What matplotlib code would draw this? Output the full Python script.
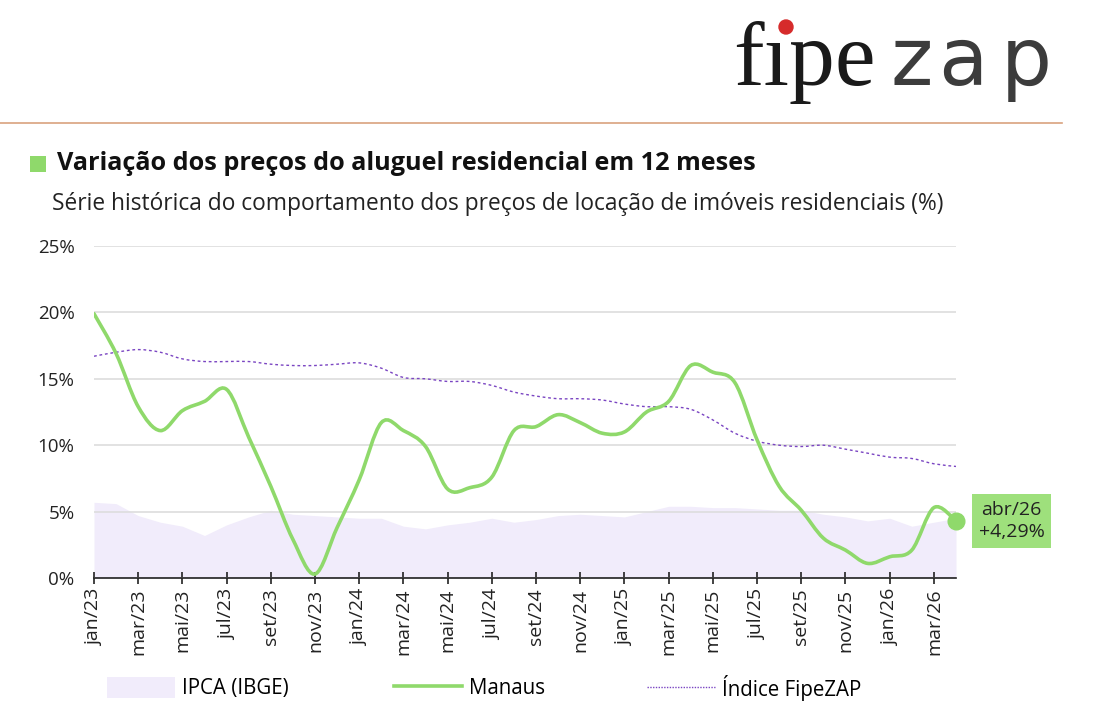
import numpy as np
import matplotlib.pyplot as plt
from matplotlib.path import Path
from matplotlib.patches import PathPatch, Patch, Rectangle, Ellipse
from matplotlib.lines import Line2D

# monthly labels jan/23 .. abr/26
months = ['jan', 'fev', 'mar', 'abr', 'mai', 'jun', 'jul', 'ago', 'set', 'out', 'nov', 'dez']
labels = [f'{months[i % 12]}/{23 + i // 12}' for i in range(40)]

manaus = [19.9, 16.9, 12.9, 11.1, 12.6, 13.3, 14.2, 10.6, 6.9, 2.9,
          0.3, 3.8, 7.4, 11.7, 11.1, 9.9, 6.7, 6.8, 7.6, 11.1,
          11.4, 12.3, 11.7, 10.9, 11.0, 12.5, 13.3, 16.0, 15.5, 14.7,
          10.4, 6.9, 5.1, 3.0, 2.1, 1.1, 1.6, 2.1, 5.3, 4.29]
fipezap = [16.7, 17.0, 17.2, 17.0, 16.5, 16.3, 16.3, 16.3, 16.1, 16.0,
           16.0, 16.1, 16.2, 15.8, 15.1, 15.0, 14.8, 14.8, 14.5, 14.0,
           13.7, 13.5, 13.5, 13.4, 13.1, 12.9, 12.9, 12.7, 11.9, 10.9,
           10.3, 10.0, 9.9, 10.0, 9.7, 9.4, 9.1, 9.0, 8.6, 8.4]
ipca = [5.7, 5.6, 4.7, 4.2, 3.9, 3.2, 4.0, 4.6, 5.1, 4.8,
        4.7, 4.6, 4.5, 4.5, 3.9, 3.7, 4.0, 4.2, 4.5, 4.2,
        4.4, 4.7, 4.8, 4.7, 4.6, 5.0, 5.4, 5.4, 5.3, 5.3,
        5.2, 5.1, 5.1, 4.8, 4.6, 4.3, 4.5, 3.9, 4.2, 4.5]
legend_labels = ['IPCA (IBGE)', 'Manaus', 'Índice FipeZAP']

GREEN = '#8fd96b'
PURPLE = '#7a45c2'
LILAC = '#f1ecfb'

plt.rcParams['font.family'] = ['Open Sans', 'DejaVu Sans']


def smooth_path(xs, ys):
    # catmull-rom through the data points, as cubic bezier segments
    xs = np.asarray(xs, float)
    ys = np.asarray(ys, float)
    verts = [(xs[0], ys[0])]
    codes = [Path.MOVETO]
    n = len(xs)
    for i in range(n - 1):
        x0, y0 = (xs[i - 1], ys[i - 1]) if i > 0 else (xs[i], ys[i])
        x3, y3 = (xs[i + 2], ys[i + 2]) if i + 2 < n else (xs[i + 1], ys[i + 1])
        c1 = (xs[i] + (xs[i + 1] - x0) / 6, ys[i] + (ys[i + 1] - y0) / 6)
        c2 = (xs[i + 1] - (x3 - xs[i]) / 6, ys[i + 1] - (y3 - ys[i]) / 6)
        verts += [c1, c2, (xs[i + 1], ys[i + 1])]
        codes += [Path.CURVE4] * 3
    return Path(verts, codes)


def fx(px):
    return px / 1112


def fy(py):
    return 1 - py / 714


x = np.arange(len(labels))

fig = plt.figure(figsize=(11.12, 7.14), dpi=100)
ax = fig.add_axes([fx(94), fy(578), fx(956 - 94), (578 - 246) / 714])

ax.fill_between(x, ipca, 0, color=LILAC, lw=0, zorder=1)
ax.add_patch(PathPatch(smooth_path(x, fipezap), fill=False, ec=PURPLE,
                       lw=1.0, ls=(0, (2, 2)), zorder=3))
ax.add_patch(PathPatch(smooth_path(x, manaus), fill=False, ec=GREEN,
                       lw=2.6, zorder=4, capstyle='round'))
ax.plot(x[-1], manaus[-1], 'o', color=GREEN, ms=12, zorder=5, clip_on=False)

ax.set_xlim(0, 39)
ax.set_ylim(0, 25)
ax.set_yticks(range(0, 26, 5))
ax.set_yticklabels([f'{v}%' for v in range(0, 26, 5)], fontsize=13.5, color='#222222')
ax.set_xticks(x[::2])
ax.set_xticklabels(labels[::2], rotation=90, fontsize=14, color='#222222')
ax.tick_params(axis='y', length=0, pad=14)
ax.tick_params(axis='x', direction='inout', length=9, width=1.2, color='#222222', pad=3)
ax.grid(axis='y', color='#dddddd', lw=1.2, zorder=0)
for s in ['top', 'right', 'left']:
    ax.spines[s].set_visible(False)
ax.spines['bottom'].set_color('#222222')
ax.spines['bottom'].set_linewidth(1.2)
ax.spines['bottom'].set_zorder(6)

last_txt = f'{labels[-1]}\n+{manaus[-1]:.2f}%'.replace('.', ',')
ax.annotate(last_txt, xy=(x[-1], manaus[-1]), xytext=(40, 0), textcoords='offset points',
            ha='center', va='center', fontsize=14, color='#222222', linespacing=1.25,
            bbox=dict(boxstyle='square,pad=0.35', fc='#9ee07c', ec='none'),
            annotation_clip=False)

# header
fig.add_artist(Line2D([0, fx(1062)], [fy(123)] * 2, color='#d9a27e', lw=1.2))
fig.add_artist(Rectangle((fx(30), fy(172)), fx(16), 16 / 714, color=GREEN, lw=0))
fig.text(fx(57), fy(164), 'Variação dos preços do aluguel residencial em 12 meses',
         fontsize=18.2, fontweight='bold', va='center', color='#111111')
fig.text(fx(52), fy(204),
         'Série histórica do comportamento dos preços de locação de imóveis residenciais (%)',
         fontsize=16.4, va='center', color='#222222')

# logo
fig.text(fx(733), fy(85), 'f\u0131pe', family='Liberation Serif', fontsize=66,
         color='#1a1a1a', va='baseline')
for ch, px in zip('zap', [891, 938, 1001]):
    fig.text(fx(px), fy(85), ch, family='DejaVu Sans', fontsize=58,
             color='#3c3c3c', va='baseline')
fig.add_artist(Ellipse((fx(786), fy(27)), fx(14), 14 / 714, color='#d62b2b'))

# legend, one entry per slot
handles = [Patch(fc=LILAC, ec='none'),
           Line2D([], [], color=GREEN, lw=2.6),
           Line2D([], [], color=PURPLE, lw=1.0, ls=(0, (1, 1)))]
for h, lab, px in zip(handles, legend_labels, [108, 395, 648]):
    fig.legend([h], [lab], loc='center left', bbox_to_anchor=(fx(px) - 0.001, fy(688)),
               frameon=False, fontsize=14.8, handlelength=3.3, handleheight=1.2,
               handletextpad=0.35, borderpad=0, borderaxespad=0)

fig.savefig('out.png', dpi=100, facecolor='white')
